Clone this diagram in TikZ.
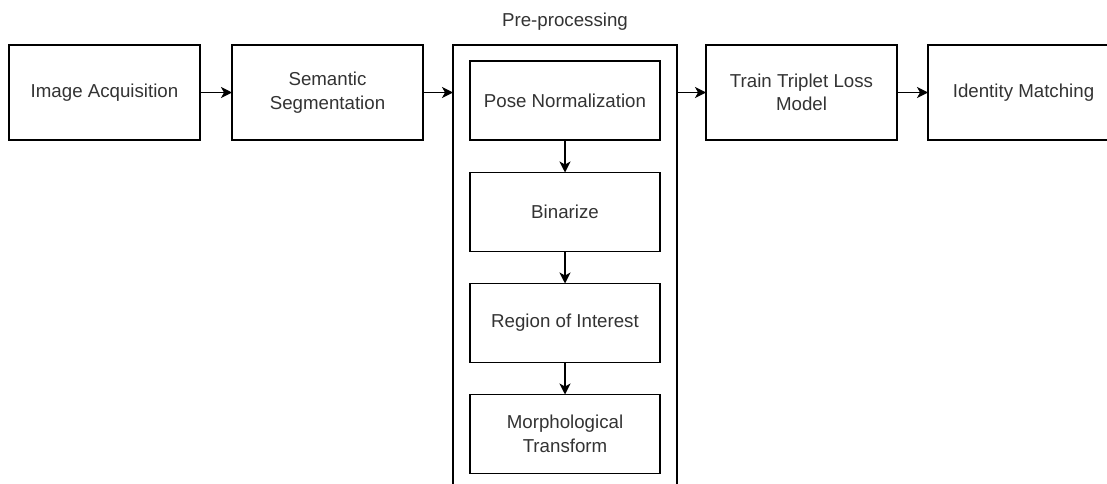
\documentclass[tikz,border=0pt]{standalone}
\usepackage{fontspec}
\setmainfont{Liberation Sans}
\usetikzlibrary{arrows.meta}
\definecolor{txt}{RGB}{51,51,51}
\begin{document}
\begin{tikzpicture}[x=1pt,y=-1pt,
  box/.style={draw=black, line width=1.5pt, minimum width=191pt, minimum height=95pt, inner sep=0pt, outer sep=0pt, align=center, text=txt, font=\fontsize{18.7}{23.5}\selectfont},
  sub/.style={box, minimum width=190pt, minimum height=79pt},
  ttl/.style={text=txt, inner sep=0pt, font=\fontsize{18.7}{23.5}\selectfont},
  arr/.style={line width=1.5pt, -{Stealth[length=11pt,width=11pt,inset=3pt]}}]
\useasboundingbox (0,0) rectangle (1107,483);
\fill[white] (0,0) rectangle (1107,483);
\clip (0,0) rectangle (1107,483);
\node[box] (acq) at (104.5,92.5) {Image Acquisition};
\node[box] (seg) at (327.5,92.5) {Semantic\\Segmentation};
\node[draw=black, line width=1.5pt, minimum width=224pt, minimum height=475pt, inner sep=0pt, outer sep=0pt] (pre) at (565,282.5) {};
\node[ttl] (title) at (565,22) {Pre-processing};
\node[sub] (pose) at (565,100.5) {Pose Normalization};
\node[sub] (bin) at (565,212) {Binarize};
\node[sub] (roi) at (565,323) {Region of Interest};
\node[sub] (morph) at (565,434) {Morphological\\Transform};
\node[box] (train) at (801.5,92.5) {Train Triplet Loss\\Model};
\node[box] (match) at (1023.5,92.5) {Identity Matching};
\draw[arr] (acq.east) -- (seg.west);
\draw[arr] (seg.east) -- (seg.east -| pre.west);
\draw[arr] (pre.east |- train.west) -- (train.west);
\draw[arr] (train.east) -- (match.west);
\draw[arr] (pose.south) -- (bin.north);
\draw[arr] (bin.south) -- (roi.north);
\draw[arr] (roi.south) -- (morph.north);
\end{tikzpicture}
\end{document}
